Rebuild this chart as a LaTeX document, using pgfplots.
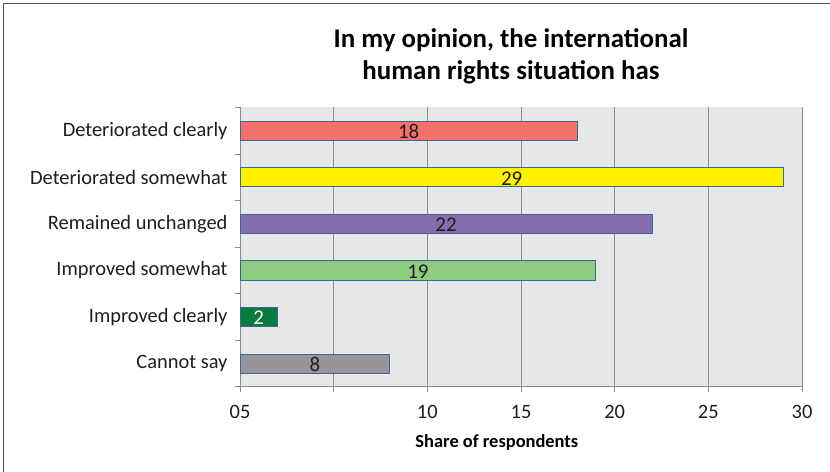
\documentclass[border=0pt]{standalone}
\usepackage{pgfplots}
\pgfplotsset{compat=1.18}
\usepackage{fontspec}
\setmainfont{Carlito}
\definecolor{cred}{RGB}{244,112,107}
\definecolor{cyellow}{RGB}{255,242,0}
\definecolor{cpurple}{RGB}{134,108,176}
\definecolor{clgreen}{RGB}{143,204,130}
\definecolor{cdgreen}{RGB}{10,122,62}
\definecolor{cgray}{RGB}{150,150,154}
\definecolor{cborder}{RGB}{60,100,150}
\definecolor{bggray}{RGB}{230,231,233}
\definecolor{gridgray}{RGB}{140,140,140}
\definecolor{framegray}{RGB}{85,85,85}
\definecolor{txt}{RGB}{30,30,30}
\begin{document}
\begin{tikzpicture}[x=1bp,y=1bp]
\useasboundingbox (0,0) rectangle (830,472);
\draw[line width=1.5bp, color=framegray] (3.5,0) -- (3.5,468.5) -- (830,468.5);
\node[font=\fontsize{27}{32}\selectfont\bfseries, align=center, text=black] at (511,416) {In my opinion, the international\\human rights situation has};
\begin{axis}[
  at={(240bp,85bp)}, anchor=south west,
  scale only axis, width=562bp, height=279.5bp,
  xmin=0, xmax=30, ymin=-0.5, ymax=5.5, y dir=reverse,
  xtick={0,5,10,15,20,25,30},
  xticklabels={05,,10,15,20,25,30},
  ytick={0,1,2,3,4,5},
  yticklabels={Deteriorated clearly,Deteriorated somewhat,Remained unchanged,Improved somewhat,Improved clearly,Cannot say},
  minor ytick={-0.5,0.5,1.5,2.5,3.5,4.5,5.5},
  every major y tick/.style={draw=none},
  tick align=outside,
  major tick length=5bp, minor tick length=5bp,
  tick style={color=gridgray, line width=1bp},
  axis background/.style={fill=bggray},
  axis x line*=bottom, axis y line*=left,
  axis line style={draw=gridgray, line width=1bp, -},
  xmajorgrids, major grid style={color=gridgray, line width=1bp},
  tick label style={font=\fontsize{20.5}{24}\selectfont, text=txt},
  /pgf/number format/assume math mode=true,
  xticklabel style={yshift=-10bp},
  yticklabel style={xshift=-4bp},
  xlabel={Share of respondents},
  xlabel style={font=\fontsize{18.5}{22}\selectfont\bfseries, at={(axis description cs:0.457,0)}, anchor=center, yshift=-55bp, text=black},
  nodes near coords style={font=\fontsize{21}{24}\selectfont},
]
\addplot[xbar, bar width=0.41, bar shift=0pt, fill=cred, draw=cborder, line width=1bp] coordinates {(18,0)};
\addplot[xbar, bar width=0.41, bar shift=0pt, fill=cyellow, draw=cborder, line width=1bp] coordinates {(29,1)};
\addplot[xbar, bar width=0.41, bar shift=0pt, fill=cpurple, draw=cborder, line width=1bp] coordinates {(22,2)};
\addplot[xbar, bar width=0.41, bar shift=0pt, fill=clgreen, draw=cborder, line width=1bp] coordinates {(19,3)};
\addplot[xbar, bar width=0.41, bar shift=0pt, fill=cdgreen, draw=cborder, line width=1bp] coordinates {(2,4)};
\addplot[xbar, bar width=0.41, bar shift=0pt, fill=cgray, draw=cborder, line width=1bp] coordinates {(8,5)};
\addplot[only marks, mark=none, point meta=explicit symbolic, nodes near coords,
  nodes near coords style={anchor=center, text=txt, yshift=-1bp}]
  coordinates {(9,0)[18] (14.5,1)[29] (11,2)[22] (9.5,3)[19] (4,5)[8]};
\addplot[only marks, mark=none, point meta=explicit symbolic, nodes near coords,
  nodes near coords style={anchor=center, text=white, yshift=-1bp}]
  coordinates {(1,4)[2]};
\end{axis}
\end{tikzpicture}
\end{document}
